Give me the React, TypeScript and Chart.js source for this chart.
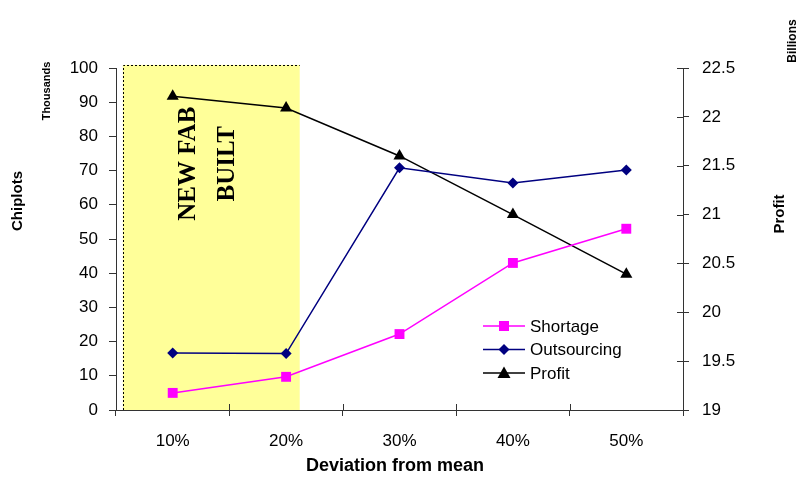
import React, { useEffect, useRef } from 'react';
import { Chart, registerables } from 'chart.js';

Chart.register(...registerables);

// Deviation levels on the x axis
const categories = ['10%', '20%', '30%', '40%', '50%'];
// Chiplots (thousands)
const shortage = [5.0, 9.7, 22.2, 43.0, 53.0];
const outsourcing = [16.7, 16.5, 70.8, 66.4, 70.2];
// Profit (billions)
const profit = [22.21, 22.09, 21.6, 21.0, 20.39];

const chiplotRange = [0, 100];
const chiplotStep = 10;
const profitRange = [19, 22.5];
const profitStep = 0.5;

// Highlighted region, in category-index units
const fabSpan = [-0.44, 1.12];
const fabTopValue = 100.9;
const fabLines = ['NEW FAB', 'BUILT'];

const SANS = '"Liberation Sans", Arial, sans-serif';
const SERIF = '"Liberation Serif", "Times New Roman", serif';
const AXIS = '#333333';

function drawMarker(ctx: CanvasRenderingContext2D, style: string, x: number, y: number, color: string) {
  ctx.save();
  ctx.fillStyle = color;
  ctx.beginPath();
  if (style === 'rect') {
    ctx.rect(x - 5, y - 5, 10, 10);
  } else if (style === 'rectRot') {
    ctx.moveTo(x, y - 5.5);
    ctx.lineTo(x + 5.5, y);
    ctx.lineTo(x, y + 5.5);
    ctx.lineTo(x - 5.5, y);
    ctx.closePath();
  } else {
    ctx.moveTo(x, y - 6.5);
    ctx.lineTo(x + 6.5, y + 5);
    ctx.lineTo(x - 6.5, y + 5);
    ctx.closePath();
  }
  ctx.fill();
  ctx.restore();
}

const fabPlugin = {
  id: 'fabRegion',
  beforeDatasetsDraw(chart: any) {
    const { ctx } = chart;
    const xs = chart.scales.x;
    const ys = chart.scales.y;
    const x1 = xs.getPixelForValue(fabSpan[0]);
    const x2 = xs.getPixelForValue(fabSpan[1]);
    const yTop = ys.getPixelForValue(fabTopValue);
    const yBot = ys.getPixelForValue(chiplotRange[0]);
    ctx.save();
    ctx.fillStyle = '#FFFF99';
    ctx.fillRect(x1, yTop, x2 - x1, yBot - yTop);
    ctx.strokeStyle = '#000';
    ctx.lineWidth = 1;
    ctx.setLineDash([2, 2]);
    ctx.beginPath();
    ctx.moveTo(Math.round(x1) + 0.5, yBot);
    ctx.lineTo(Math.round(x1) + 0.5, Math.round(yTop) + 0.5);
    ctx.lineTo(x2, Math.round(yTop) + 0.5);
    ctx.stroke();
    ctx.setLineDash([]);

    // rotated caption
    const cx = (x1 + x2) / 2 - 3;
    const cy = ys.getPixelForValue(72);
    ctx.fillStyle = '#000';
    ctx.font = `bold 25px ${SERIF}`;
    ctx.textAlign = 'center';
    ctx.textBaseline = 'middle';
    const gap = 39;
    fabLines.forEach((line, i) => {
      ctx.save();
      ctx.translate(cx + (i - (fabLines.length - 1) / 2) * gap, cy);
      ctx.rotate(-Math.PI / 2);
      ctx.fillText(line, 0, 0);
      ctx.restore();
    });
    ctx.restore();
  },
};

const decorPlugin = {
  id: 'decor',
  afterDraw(chart: any) {
    const { ctx, chartArea } = chart;
    const xs = chart.scales.x;
    const ys = chart.scales.y;
    const y1 = chart.scales.y1;
    ctx.save();
    ctx.strokeStyle = AXIS;
    ctx.lineWidth = 1;
    // inner halves of the crossing tick marks
    ctx.beginPath();
    for (let v = profitRange[0]; v <= profitRange[1] + 1e-9; v += profitStep) {
      const py = Math.round(y1.getPixelForValue(v)) + 0.5;
      ctx.moveTo(chartArea.right - 6, py);
      ctx.lineTo(chartArea.right, py);
    }
    for (let i = 0; i <= categories.length; i++) {
      const px = Math.round(xs.getPixelForValue(i - 0.5)) + 0.5;
      ctx.moveTo(px, chartArea.bottom - 6);
      ctx.lineTo(px, chartArea.bottom);
    }
    const p0 = Math.round(ys.getPixelForValue(0)) + 0.5;
    ctx.moveTo(chartArea.left, p0);
    ctx.lineTo(chartArea.left + 5, p0);
    ctx.stroke();

    // axis titles
    ctx.fillStyle = '#000';
    const vText = (text: string, font: string, x: number, y: number) => {
      ctx.save();
      ctx.font = font;
      ctx.textAlign = 'center';
      ctx.textBaseline = 'middle';
      ctx.translate(x, y);
      ctx.rotate(-Math.PI / 2);
      ctx.fillText(text, 0, 0);
      ctx.restore();
    };
    vText('Chiplots', `bold 15px ${SANS}`, 18, 201);
    vText('Thousands', `bold 11px ${SANS}`, 47, 91);
    vText('Profit', `bold 15px ${SANS}`, 780, 214);
    vText('Billions', `bold 12px ${SANS}`, 793, 41);
    ctx.font = `bold 18px ${SANS}`;
    ctx.textAlign = 'center';
    ctx.textBaseline = 'middle';
    ctx.fillText('Deviation from mean', 395, 466);

    // legend
    const items = chart.data.datasets;
    const lx = 483;
    const ly = 326;
    items.forEach((ds: any, i: number) => {
      const y = ly + i * 23.5;
      ctx.strokeStyle = ds.borderColor;
      ctx.lineWidth = 1.5;
      ctx.beginPath();
      ctx.moveTo(lx, y);
      ctx.lineTo(lx + 42, y);
      ctx.stroke();
      drawMarker(ctx, ds.pointStyle, lx + 21, y, ds.borderColor);
      ctx.fillStyle = '#000';
      ctx.font = `17px ${SANS}`;
      ctx.textAlign = 'left';
      ctx.textBaseline = 'middle';
      ctx.fillText(ds.label, lx + 47, y + 1);
    });
    ctx.restore();
  },
};

export default function App() {
  const ref = useRef<HTMLCanvasElement | null>(null);

  useEffect(() => {
    if (!ref.current) return;
    const tickFont = { family: SANS, size: 17 };
    const chart = new Chart(ref.current, {
      type: 'line',
      data: {
        labels: categories,
        datasets: [
          {
            label: 'Shortage',
            data: shortage,
            yAxisID: 'y',
            borderColor: '#FF00FF',
            backgroundColor: '#FF00FF',
            pointStyle: 'rect',
            pointRadius: 7,
            pointBorderWidth: 0,
            borderWidth: 1.5,
          },
          {
            label: 'Outsourcing',
            data: outsourcing,
            yAxisID: 'y',
            borderColor: '#000080',
            backgroundColor: '#000080',
            pointStyle: 'rectRot',
            pointRadius: 5.5,
            pointBorderWidth: 0,
            borderWidth: 1.5,
          },
          {
            label: 'Profit',
            data: profit,
            yAxisID: 'y1',
            borderColor: '#000000',
            backgroundColor: '#000000',
            pointStyle: 'triangle',
            pointRadius: 7,
            pointBorderWidth: 0,
            borderWidth: 1.5,
          },
        ],
      },
      options: {
        animation: false,
        responsive: false,
        maintainAspectRatio: false,
        layout: { padding: { top: 68, left: 0, right: 0, bottom: 0 } },
        plugins: { legend: { display: false }, tooltip: { enabled: false } },
        elements: { line: { tension: 0 } },
        scales: {
          x: {
            type: 'category',
            offset: true,
            grid: { offset: true, drawOnChartArea: false, tickLength: 6, color: AXIS },
            border: { color: AXIS },
            ticks: { font: tickFont, color: '#000', padding: 15, maxRotation: 0 },
            afterFit: (s: any) => { s.height = 71; },
          },
          y: {
            position: 'left',
            min: chiplotRange[0],
            max: chiplotRange[1],
            grid: { drawOnChartArea: false, tickLength: 7, color: AXIS },
            border: { color: AXIS },
            ticks: { stepSize: chiplotStep, font: tickFont, color: '#000', padding: 11 },
            afterFit: (s: any) => { s.width = 116; },
          },
          y1: {
            position: 'right',
            min: profitRange[0],
            max: profitRange[1],
            grid: { drawOnChartArea: false, tickLength: 6, color: AXIS },
            border: { color: AXIS },
            ticks: {
              stepSize: profitStep,
              font: tickFont,
              color: '#000',
              padding: 13,
              callback: (v: any) => `${Number(v)}`,
            },
            afterFit: (s: any) => { s.width = 119; },
          },
        },
      },
      plugins: [fabPlugin, decorPlugin],
    });
    return () => chart.destroy();
  }, []);

  return (
    <div style={{ position: 'fixed', left: 0, top: 0, width: 802, height: 481, background: '#fff' }}>
      <canvas ref={ref} width={802} height={481} style={{ width: 802, height: 481, display: 'block' }} />
    </div>
  );
}
